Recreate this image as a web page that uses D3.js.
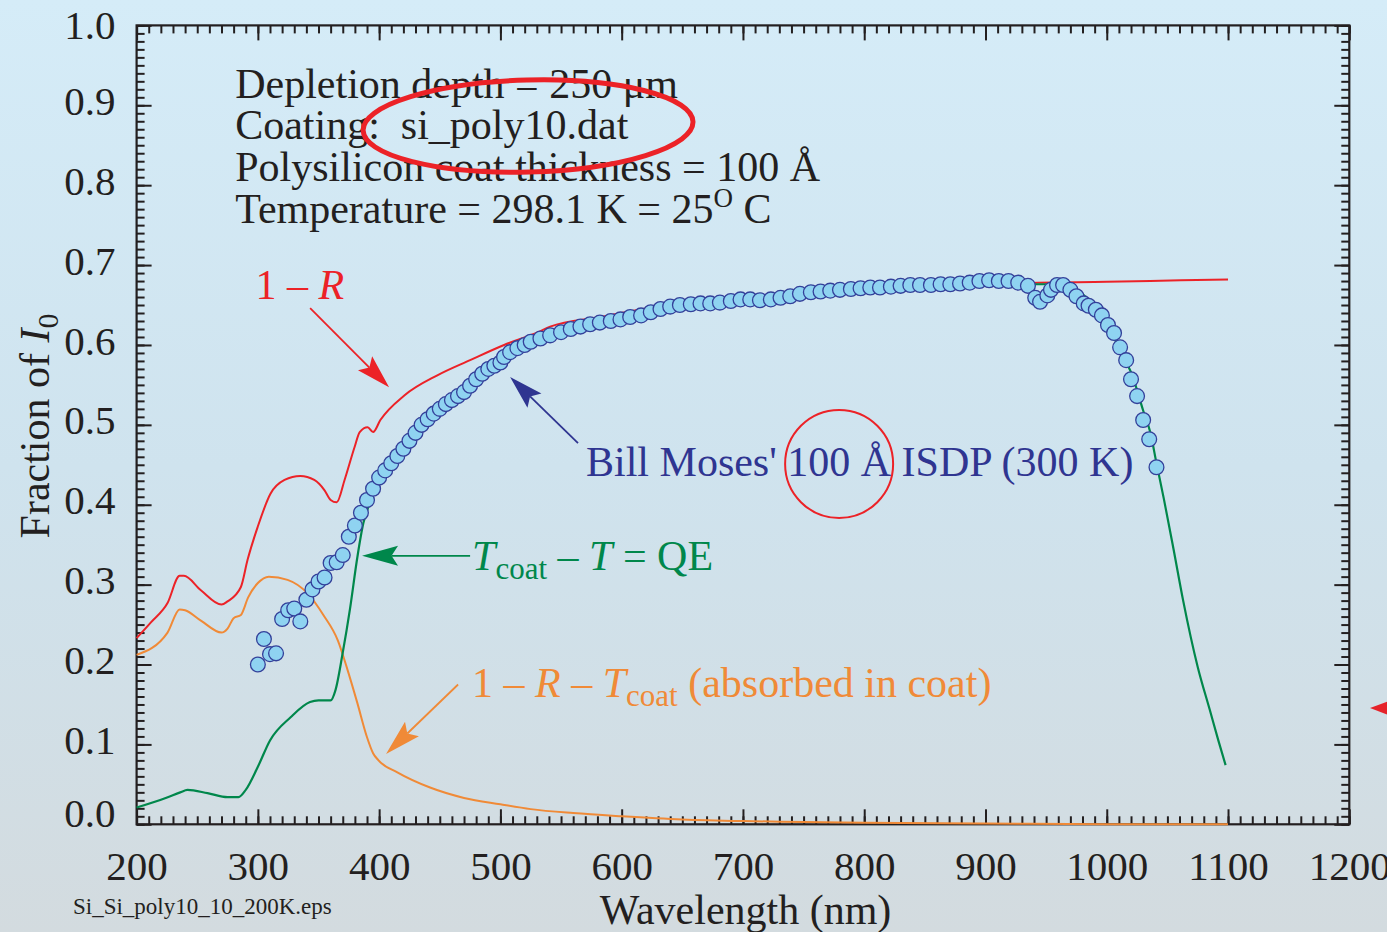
<!DOCTYPE html>
<html>
<head>
<meta charset="utf-8">
<script src="https://cdn.jsdelivr.net/npm/d3@7"></script>
<style>
  html, body { margin: 0; padding: 0; overflow: hidden; }
  svg { display: block; }
  text { font-family: "Liberation Serif", "Times New Roman", Times, serif; white-space: pre; }
</style>
</head>
<body>
<svg id="chart" width="1387" height="932"></svg>
<script>
// ---- Curves: wavelength (nm) and fraction of I0 ----
const oneMinusRWavelength = [200, 212, 225.5, 235.5, 239, 253, 270, 275, 286, 291.5, 299.8, 310.5, 322, 335, 346.5, 355, 360, 365, 371.5, 379.7, 384, 390.5, 395, 401, 421, 448, 475, 503, 531, 541, 582.5, 618, 650, 700, 750, 800, 850, 900, 943, 1000, 1061, 1100];
const oneMinusRValues = [0.233, 0.253, 0.277, 0.311, 0.311, 0.293, 0.275, 0.279, 0.297, 0.331, 0.372, 0.414, 0.431, 0.436, 0.431, 0.418, 0.406, 0.403, 0.431, 0.472, 0.491, 0.497, 0.491, 0.506, 0.537, 0.562, 0.581, 0.600, 0.616, 0.623, 0.635, 0.645, 0.653, 0.660, 0.665, 0.669, 0.672, 0.675, 0.678, 0.679, 0.681, 0.682];

const absorbedWavelength = [200, 225.5, 235.5, 240, 253, 270, 275, 280, 286, 292, 300, 309, 324.5, 341, 354, 366, 374, 382, 390, 395, 399.5, 415, 442, 470, 500, 525, 560, 600, 650, 700, 750, 800, 900, 1000, 1100];
const absorbedValues = [0.212, 0.240, 0.269, 0.268, 0.255, 0.240, 0.245, 0.258, 0.262, 0.284, 0.302, 0.310, 0.306, 0.289, 0.262, 0.230, 0.193, 0.152, 0.109, 0.089, 0.080, 0.065, 0.046, 0.033, 0.025, 0.019, 0.014, 0.010, 0.006, 0.004, 0.003, 0.002, 0.001, 0.000, 0.000];

const qeWavelength = [200, 224, 236, 242, 258.5, 275, 284, 290, 300, 310, 327, 343, 350, 360, 364, 370, 376, 382, 387, 391, 395, 400, 410, 420, 440, 460, 480, 500, 550, 600, 650, 700, 800, 900, 940, 965, 975, 985, 995, 1005, 1015, 1020, 1030, 1036, 1041, 1047, 1055, 1063, 1075, 1085, 1092, 1098];
const qeValues = [0.021, 0.033, 0.040, 0.043, 0.039, 0.034, 0.034, 0.043, 0.072, 0.105, 0.134, 0.153, 0.155, 0.155, 0.168, 0.215, 0.270, 0.334, 0.377, 0.397, 0.412, 0.428, 0.453, 0.472, 0.508, 0.532, 0.557, 0.578, 0.614, 0.631, 0.649, 0.655, 0.669, 0.677, 0.676, 0.676, 0.670, 0.656, 0.637, 0.612, 0.581, 0.566, 0.518, 0.490, 0.452, 0.408, 0.345, 0.280, 0.197, 0.143, 0.105, 0.074];

// ---- Measured ISDP points (Bill Moses, 100 Å, 300 K) ----
const isdpWavelength = [300, 305, 310, 315, 320, 325, 330, 335, 340, 345, 350, 355, 360, 365, 370, 375, 380, 385, 390, 395, 400, 405, 410, 415, 420, 425, 430, 435, 440, 445, 450, 455, 460, 465, 470, 475, 480, 485, 490, 495, 500, 503, 508, 514, 520, 525, 533, 541, 550, 558, 566, 574, 582, 591, 599, 607, 616, 624, 632, 640, 648, 657, 665, 673, 681, 690, 698, 706, 714, 723, 731, 739, 747, 756, 764, 772, 780, 789, 797, 805, 813, 822, 830, 838, 846, 855, 863, 871, 879, 887, 895, 903, 911, 919, 927, 935, 941, 945, 951, 954, 959, 964, 970, 975, 981, 985, 991, 996, 1001, 1006, 1011, 1016, 1020, 1025, 1030, 1035, 1041];
const isdpValues = [0.200, 0.232, 0.213, 0.214, 0.257, 0.268, 0.270, 0.254, 0.281, 0.294, 0.304, 0.309, 0.327, 0.328, 0.337, 0.360, 0.374, 0.390, 0.406, 0.420, 0.434, 0.443, 0.452, 0.461, 0.470, 0.480, 0.490, 0.500, 0.507, 0.514, 0.520, 0.526, 0.531, 0.536, 0.541, 0.549, 0.557, 0.564, 0.570, 0.574, 0.578, 0.585, 0.591, 0.596, 0.600, 0.604, 0.608, 0.612, 0.616, 0.620, 0.623, 0.626, 0.628, 0.630, 0.632, 0.635, 0.637, 0.641, 0.645, 0.648, 0.650, 0.651, 0.652, 0.652, 0.653, 0.655, 0.657, 0.657, 0.656, 0.657, 0.659, 0.661, 0.664, 0.666, 0.667, 0.668, 0.669, 0.670, 0.671, 0.672, 0.672, 0.673, 0.674, 0.675, 0.675, 0.675, 0.676, 0.676, 0.677, 0.678, 0.680, 0.681, 0.680, 0.680, 0.678, 0.674, 0.659, 0.654, 0.662, 0.669, 0.675, 0.675, 0.669, 0.661, 0.652, 0.649, 0.644, 0.637, 0.625, 0.615, 0.597, 0.581, 0.557, 0.536, 0.506, 0.482, 0.447];

// ---- Axis ticks ----
const xMajorTicks = [200, 300, 400, 500, 600, 700, 800, 900, 1000, 1100, 1200];
const yMajorTicks = [0.0, 0.1, 0.2, 0.3, 0.4, 0.5, 0.6, 0.7, 0.8, 0.9, 1.0];
const xMinorTicks = d3.range(200, 1201, 10);
const yMinorTicks = d3.range(0, 101, 1).map(d => d / 100);

// ---- Text ----
const infoLines = ["Depletion depth = 250 μm", "Coating:\u00a0 si_poly10.dat", "Polysilicon coat thickness = 100 Å"];
const fileName = "Si_Si_poly10_10_200K.eps";

const colors = {
  axis: "#231f20",
  red: "#ec2227",
  orange: "#f08a37",
  green: "#00874b",
  blue: "#2f3591",
  dotFill: "#8fd3f1",
  dotStroke: "#33409a"
};

const W = 1387, H = 932;
const svg = d3.select("#chart");

// background wash
const defs = svg.append("defs");
const grad = defs.append("linearGradient").attr("id", "bg").attr("x1", 0).attr("y1", 0).attr("x2", 0).attr("y2", 1);
grad.append("stop").attr("offset", "0%").attr("stop-color", "#d5ecf8");
grad.append("stop").attr("offset", "50%").attr("stop-color", "#cfe3ee");
grad.append("stop").attr("offset", "100%").attr("stop-color", "#d3dbdf");
svg.append("rect").attr("width", W).attr("height", H).attr("fill", "url(#bg)");

const x = d3.scaleLinear().domain([200, 1200]).range([136.6, 1349.3]);
const y = d3.scaleLinear().domain([0, 1]).range([824.3, 25.4]);

// ---- Axes (ticks pointing inward on all four sides) ----
const axisG = svg.append("g").attr("class", "axes");
function styleAxis(g) {
  g.select(".domain").remove();
  g.selectAll(".tick line").attr("stroke", colors.axis).attr("stroke-width", 2);
  g.selectAll(".tick text").attr("fill", colors.axis).attr("font-size", 41)
    .style("font-family", '"Liberation Serif", "Times New Roman", serif');
}
// bottom
axisG.append("g").attr("transform", `translate(0,${y(0)})`)
  .call(d3.axisBottom(x).tickValues(xMinorTicks).tickSize(-8).tickFormat("")).call(styleAxis);
axisG.append("g").attr("transform", `translate(0,${y(0)})`)
  .call(d3.axisBottom(x).tickValues(xMajorTicks).tickSize(-15).tickPadding(27).tickFormat(d3.format("d"))).call(styleAxis);
// top
axisG.append("g").attr("transform", `translate(0,${y(1)})`)
  .call(d3.axisTop(x).tickValues(xMinorTicks).tickSize(-8).tickFormat("")).call(styleAxis);
axisG.append("g").attr("transform", `translate(0,${y(1)})`)
  .call(d3.axisTop(x).tickValues(xMajorTicks).tickSize(-15).tickFormat("")).call(styleAxis);
// left
axisG.append("g").attr("transform", `translate(${x(200)},0)`)
  .call(d3.axisLeft(y).tickValues(yMinorTicks).tickSize(-8).tickFormat("")).call(styleAxis);
const yLabels = axisG.append("g").attr("transform", `translate(${x(200)},0)`)
  .call(d3.axisLeft(y).tickValues(yMajorTicks).tickSize(-15).tickPadding(21).tickFormat(d3.format(".1f"))).call(styleAxis);
// labels sit a touch above their ticks; the zero label is lifted clear of the x labels
yLabels.selectAll(".tick text").attr("y", d => (d === 0 ? -11 : d === 1 ? 0 : -4));
// right
axisG.append("g").attr("transform", `translate(${x(1200)},0)`)
  .call(d3.axisRight(y).tickValues(yMinorTicks).tickSize(-8).tickFormat("")).call(styleAxis);
axisG.append("g").attr("transform", `translate(${x(1200)},0)`)
  .call(d3.axisRight(y).tickValues(yMajorTicks).tickSize(-15).tickFormat("")).call(styleAxis);
// frame
axisG.append("rect")
  .attr("x", x(200)).attr("y", y(1)).attr("width", x(1200) - x(200)).attr("height", y(0) - y(1))
  .attr("fill", "none").attr("stroke", colors.axis).attr("stroke-width", 2.2);

// ---- Curves ----
const line = d3.line().x(d => x(d[0])).y(d => y(d[1])).curve(d3.curveMonotoneX);
const zip = (a, b) => a.map((v, i) => [v, b[i]]);
const plot = svg.append("g");
plot.append("path").datum(zip(absorbedWavelength, absorbedValues))
  .attr("d", line).attr("fill", "none").attr("stroke", colors.orange).attr("stroke-width", 2).attr("stroke-linejoin", "round");
plot.append("path").datum(zip(oneMinusRWavelength, oneMinusRValues))
  .attr("d", line).attr("fill", "none").attr("stroke", colors.red).attr("stroke-width", 2).attr("stroke-linejoin", "round");
plot.append("path").datum(zip(qeWavelength, qeValues))
  .attr("d", line).attr("fill", "none").attr("stroke", colors.green).attr("stroke-width", 2.2).attr("stroke-linejoin", "round");

// measured points
plot.selectAll("circle.isdp").data(zip(isdpWavelength, isdpValues)).join("circle")
  .attr("class", "isdp")
  .attr("cx", d => x(d[0])).attr("cy", d => y(d[1])).attr("r", 7.4)
  .attr("fill", colors.dotFill).attr("stroke", colors.dotStroke).attr("stroke-width", 1.3);

// ---- Annotations ----
const ann = svg.append("g");

function arrow(from, to, color, lineW, headLen, headHalf) {
  const x1 = x(from[0]), y1 = y(from[1]), x2 = x(to[0]), y2 = y(to[1]);
  const ang = Math.atan2(y2 - y1, x2 - x1);
  const ux = Math.cos(ang), uy = Math.sin(ang);
  const bx = x2 - ux * headLen, by = y2 - uy * headLen;
  const nx = x2 - ux * headLen * 0.82, ny = y2 - uy * headLen * 0.82;
  ann.append("line").attr("x1", x1).attr("y1", y1).attr("x2", nx).attr("y2", ny)
    .attr("stroke", color).attr("stroke-width", lineW);
  const pts = [
    [x2, y2],
    [bx - uy * headHalf, by + ux * headHalf],
    [nx, ny],
    [bx + uy * headHalf, by - ux * headHalf]
  ];
  ann.append("polygon").attr("points", pts.map(p => p.join(",")).join(" ")).attr("fill", color);
}

// info block
const info = ann.append("text").attr("x", x(281.3)).attr("y", y(0.9095)).attr("font-size", 42).attr("fill", colors.axis);
infoLines.forEach((t, i) => {
  info.append("tspan").attr("x", x(281.3)).attr("dy", i === 0 ? 0 : 41.7).text(t);
});
info.append("tspan").attr("x", x(281.3)).attr("dy", 41.7).text("Temperature = 298.1 K = 25");
info.append("tspan").attr("font-size", 27).attr("dy", -16).text("O");
info.append("tspan").attr("dy", 16).text(" C");

// highlight ellipse around the coating file name
ann.append("ellipse").attr("cx", x(522.8)).attr("cy", y(0.874)).attr("rx", 165).attr("ry", 46)
  .attr("transform", `rotate(-1.5,${x(522.8)},${y(0.874)})`)
  .attr("fill", "none").attr("stroke", colors.red).attr("stroke-width", 5);

// 1 - R
const rLabel = ann.append("text").attr("x", x(298.0)).attr("y", y(0.657)).attr("font-size", 42).attr("fill", colors.red);
rLabel.append("tspan").text("1 – ");
rLabel.append("tspan").attr("font-style", "italic").text("R");
arrow([343.1, 0.646], [408.2, 0.547], colors.red, 1.8, 34, 10);

// Bill Moses data label
ann.append("text").attr("x", x(570.6)).attr("y", y(0.436)).attr("font-size", 42).attr("fill", colors.blue)
  .text("Bill Moses' 100 Å ISDP (300 K)");
arrow([564.0, 0.477], [508.0, 0.560], colors.blue, 1.8, 34, 10);
ann.append("circle").attr("cx", x(779.3)).attr("cy", y(0.451)).attr("r", 54)
  .attr("fill", "none").attr("stroke", colors.red).attr("stroke-width", 2);

// QE label
const qeLabel = ann.append("text").attr("x", x(476.6)).attr("y", y(0.318)).attr("font-size", 42).attr("fill", colors.green);
qeLabel.append("tspan").attr("font-style", "italic").text("T");
qeLabel.append("tspan").attr("font-size", 31).attr("dy", 9).text("coat");
qeLabel.append("tspan").attr("dy", -9).text(" – ");
qeLabel.append("tspan").attr("font-style", "italic").text("T");
qeLabel.append("tspan").text(" = QE");
arrow([475.0, 0.336], [385.9, 0.336], colors.green, 1.8, 36, 10);

// absorbed-in-coat label
const abLabel = ann.append("text").attr("x", x(476.6)).attr("y", y(0.159)).attr("font-size", 42).attr("fill", colors.orange);
abLabel.append("tspan").text("1 – ");
abLabel.append("tspan").attr("font-style", "italic").text("R");
abLabel.append("tspan").text(" – ");
abLabel.append("tspan").attr("font-style", "italic").text("T");
abLabel.append("tspan").attr("font-size", 31).attr("dy", 9).text("coat");
abLabel.append("tspan").attr("dy", -9).text(" (absorbed in coat)");
arrow([465.1, 0.175], [405.7, 0.088], colors.orange, 1.8, 36, 10);

// axis titles
ann.append("text").attr("x", 745.5).attr("y", 924).attr("font-size", 42).attr("fill", colors.axis)
  .attr("text-anchor", "middle").text("Wavelength (nm)");
const yTitle = ann.append("text").attr("transform", "translate(49,426) rotate(-90)")
  .attr("font-size", 42).attr("fill", colors.axis).attr("text-anchor", "middle");
yTitle.append("tspan").text("Fraction of ");
yTitle.append("tspan").attr("font-style", "italic").text("I");
yTitle.append("tspan").attr("font-size", 30).attr("dy", 9).text("0");

// file name
ann.append("text").attr("x", 73).attr("y", 914).attr("font-size", 23).attr("fill", colors.axis).text(fileName);

// pointer at the right margin
ann.append("polygon").attr("points", "1370,708 1402,696 1402,720").attr("fill", "#e5232a");
</script>
</body>
</html>
